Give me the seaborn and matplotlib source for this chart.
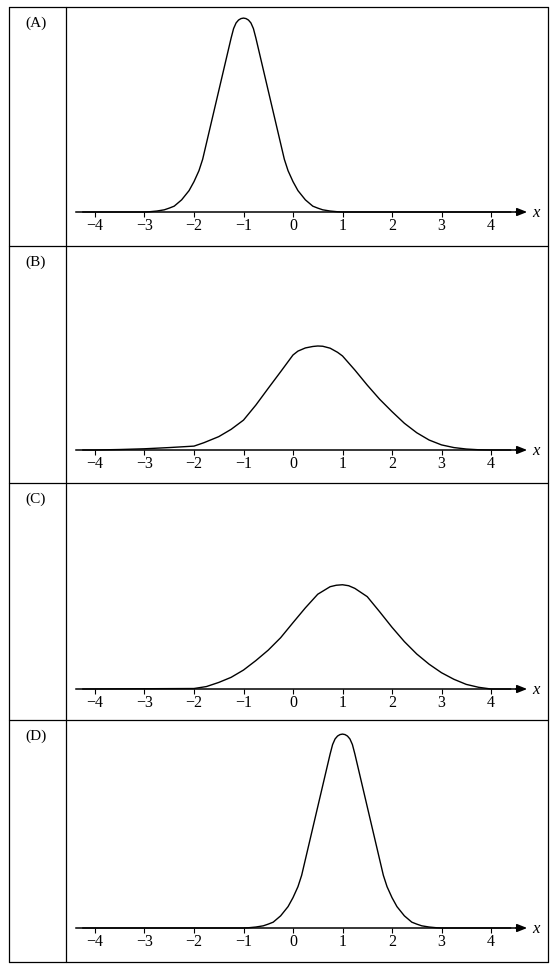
import matplotlib
matplotlib.use('Agg')
import matplotlib.pyplot as plt
from matplotlib.lines import Line2D
import seaborn as sns

# curve heights (density-like units)
x_a = [-4.25, -3, -2.9, -2.75, -2.6, -2.5, -2.4, -2.25, -2.1, -2, -1.9, -1.825, -1.75, -1.5,
       -1.25, -1.2, -1.15, -1.1, -1.05, -1, -0.95, -0.9, -0.85, -0.8, -0.75, -0.5, -0.25,
       -0.175, -0.1, 0, 0.1, 0.25, 0.4, 0.5, 0.6, 0.75, 0.9, 1, 4.4]
y_a = [0, 0, 0.001, 0.004, 0.009, 0.016, 0.024, 0.05, 0.088, 0.125, 0.17, 0.217, 0.282, 0.499,
       0.716, 0.755, 0.778, 0.79, 0.796, 0.798, 0.796, 0.79, 0.778, 0.755, 0.716, 0.499, 0.282,
       0.217, 0.17, 0.125, 0.088, 0.05, 0.024, 0.016, 0.009, 0.004, 0.001, 0, 0]

x_b = [-4.25, -4, -3.5, -3, -2.5, -2, -1.8, -1.5, -1.25, -1, -0.75, -0.5, -0.25, 0, 0.1,
       0.25, 0.4, 0.5, 0.6, 0.75, 0.9, 1, 1.25, 1.5, 1.75, 2, 2.25, 2.5, 2.75, 3, 3.25,
       3.5, 3.75, 4, 4.4]
y_b = [0, 0, 0.002, 0.005, 0.01, 0.016, 0.03, 0.055, 0.085, 0.123, 0.185, 0.254, 0.322, 0.391,
       0.407, 0.42, 0.426, 0.428, 0.427, 0.419, 0.402, 0.387, 0.329, 0.267, 0.209, 0.158, 0.11,
       0.071, 0.041, 0.021, 0.01, 0.004, 0.001, 0, 0]

x_c = [-4.25, -2, -1.75, -1.5, -1.25, -1, -0.75, -0.5, -0.25, 0, 0.25, 0.5, 0.75, 0.875, 1,
       1.125, 1.25, 1.5, 1.75, 2, 2.25, 2.5, 2.75, 3, 3.25, 3.5, 3.75, 4, 4.4]
y_c = [0, 0.002, 0.01, 0.027, 0.048, 0.078, 0.117, 0.16, 0.211, 0.273, 0.334, 0.39, 0.421,
       0.427, 0.429, 0.425, 0.414, 0.38, 0.318, 0.254, 0.195, 0.144, 0.102, 0.067, 0.04,
       0.019, 0.007, 0, 0]

x_d = [-4.25, -1, -0.9, -0.75, -0.6, -0.5, -0.4, -0.25, -0.1, 0, 0.1, 0.175, 0.25, 0.5,
       0.75, 0.8, 0.85, 0.9, 0.95, 1, 1.05, 1.1, 1.15, 1.2, 1.25, 1.5, 1.75,
       1.825, 1.9, 2, 2.1, 2.25, 2.4, 2.5, 2.6, 2.75, 2.9, 3, 4.4]
y_d = [0, 0, 0.001, 0.004, 0.009, 0.016, 0.024, 0.05, 0.088, 0.125, 0.17, 0.217, 0.282, 0.499,
       0.716, 0.755, 0.778, 0.79, 0.796, 0.798, 0.796, 0.79, 0.778, 0.755, 0.716, 0.499, 0.282,
       0.217, 0.17, 0.125, 0.088, 0.05, 0.024, 0.016, 0.009, 0.004, 0.001, 0, 0]

panels = ['(A)', '(B)', '(C)', '(D)']
curves = [(x_a, y_a), (x_b, y_b), (x_c, y_c), (x_d, y_d)]
ticks = [-4, -3, -2, -1, 0, 1, 2, 3, 4]

sns.set_theme(style='white')
plt.rcParams['font.family'] = ['Liberation Serif', 'DejaVu Serif']
plt.rcParams['text.color'] = 'black'
plt.rcParams['xtick.color'] = 'black'

W, H = 555, 967
fig = plt.figure(figsize=(W / 100, H / 100), dpi=100)
fig.patch.set_facecolor('white')

# table layout in pixels
left, mid, right = 9, 66, 548
row_lines = [7, 246, 483, 720, 962]
axis_y = [212, 450, 689, 928]
unit = 49.5        # px per x unit
x0_px = 293        # px of x = 0
ppd = 243          # px per density unit


def fx(px):
    return px / W


def fy(py):
    return 1 - py / H


for yy in row_lines:
    fig.add_artist(Line2D([fx(left), fx(right)], [fy(yy), fy(yy)], transform=fig.transFigure,
                          color='black', lw=0.9))
for xx in [left, mid, right]:
    fig.add_artist(Line2D([fx(xx), fx(xx)], [fy(row_lines[0]), fy(row_lines[-1])],
                          transform=fig.transFigure, color='black', lw=0.9))

for i, (label, (xs, ys)) in enumerate(zip(panels, curves)):
    ay = axis_y[i]
    below, above = 34, 200
    ax = fig.add_axes([fx(mid), fy(ay + below), (right - mid) / W, (below + above) / H])
    ax.set_facecolor('none')
    ax.set_xlim((mid - x0_px) / unit, (right - x0_px) / unit)
    ax.set_ylim(-below / ppd, above / ppd)

    sns.lineplot(x=xs, y=ys, ax=ax, color='black', lw=1.0, estimator=None)

    for s in ['top', 'left', 'right']:
        ax.spines[s].set_visible(False)
    ax.spines['bottom'].set_position(('data', 0))
    ax.spines['bottom'].set_bounds(-4.38, 4.6)
    ax.spines['bottom'].set_color('black')
    ax.spines['bottom'].set_linewidth(1.1)
    ax.set_yticks([])
    ax.set_xticks(ticks)
    ax.tick_params(axis='x', direction='out', length=3.6, width=0.8, pad=0.5,
                   labelsize=11.5, bottom=True)
    ax.annotate('', xy=(4.73, 0), xytext=(4.5, 0),
                arrowprops=dict(arrowstyle='-|>,head_length=0.5,head_width=0.2',
                                mutation_scale=12, color='black', lw=1.1,
                                shrinkA=0, shrinkB=0))
    ax.text(4.83, -5 / ppd, 'x', fontsize=12, fontstyle='italic', ha='left', va='baseline')

    fig.text(fx(25), fy(row_lines[i] + 16), label, fontsize=11, ha='left', va='center')

fig.savefig('out.png', dpi=100)
